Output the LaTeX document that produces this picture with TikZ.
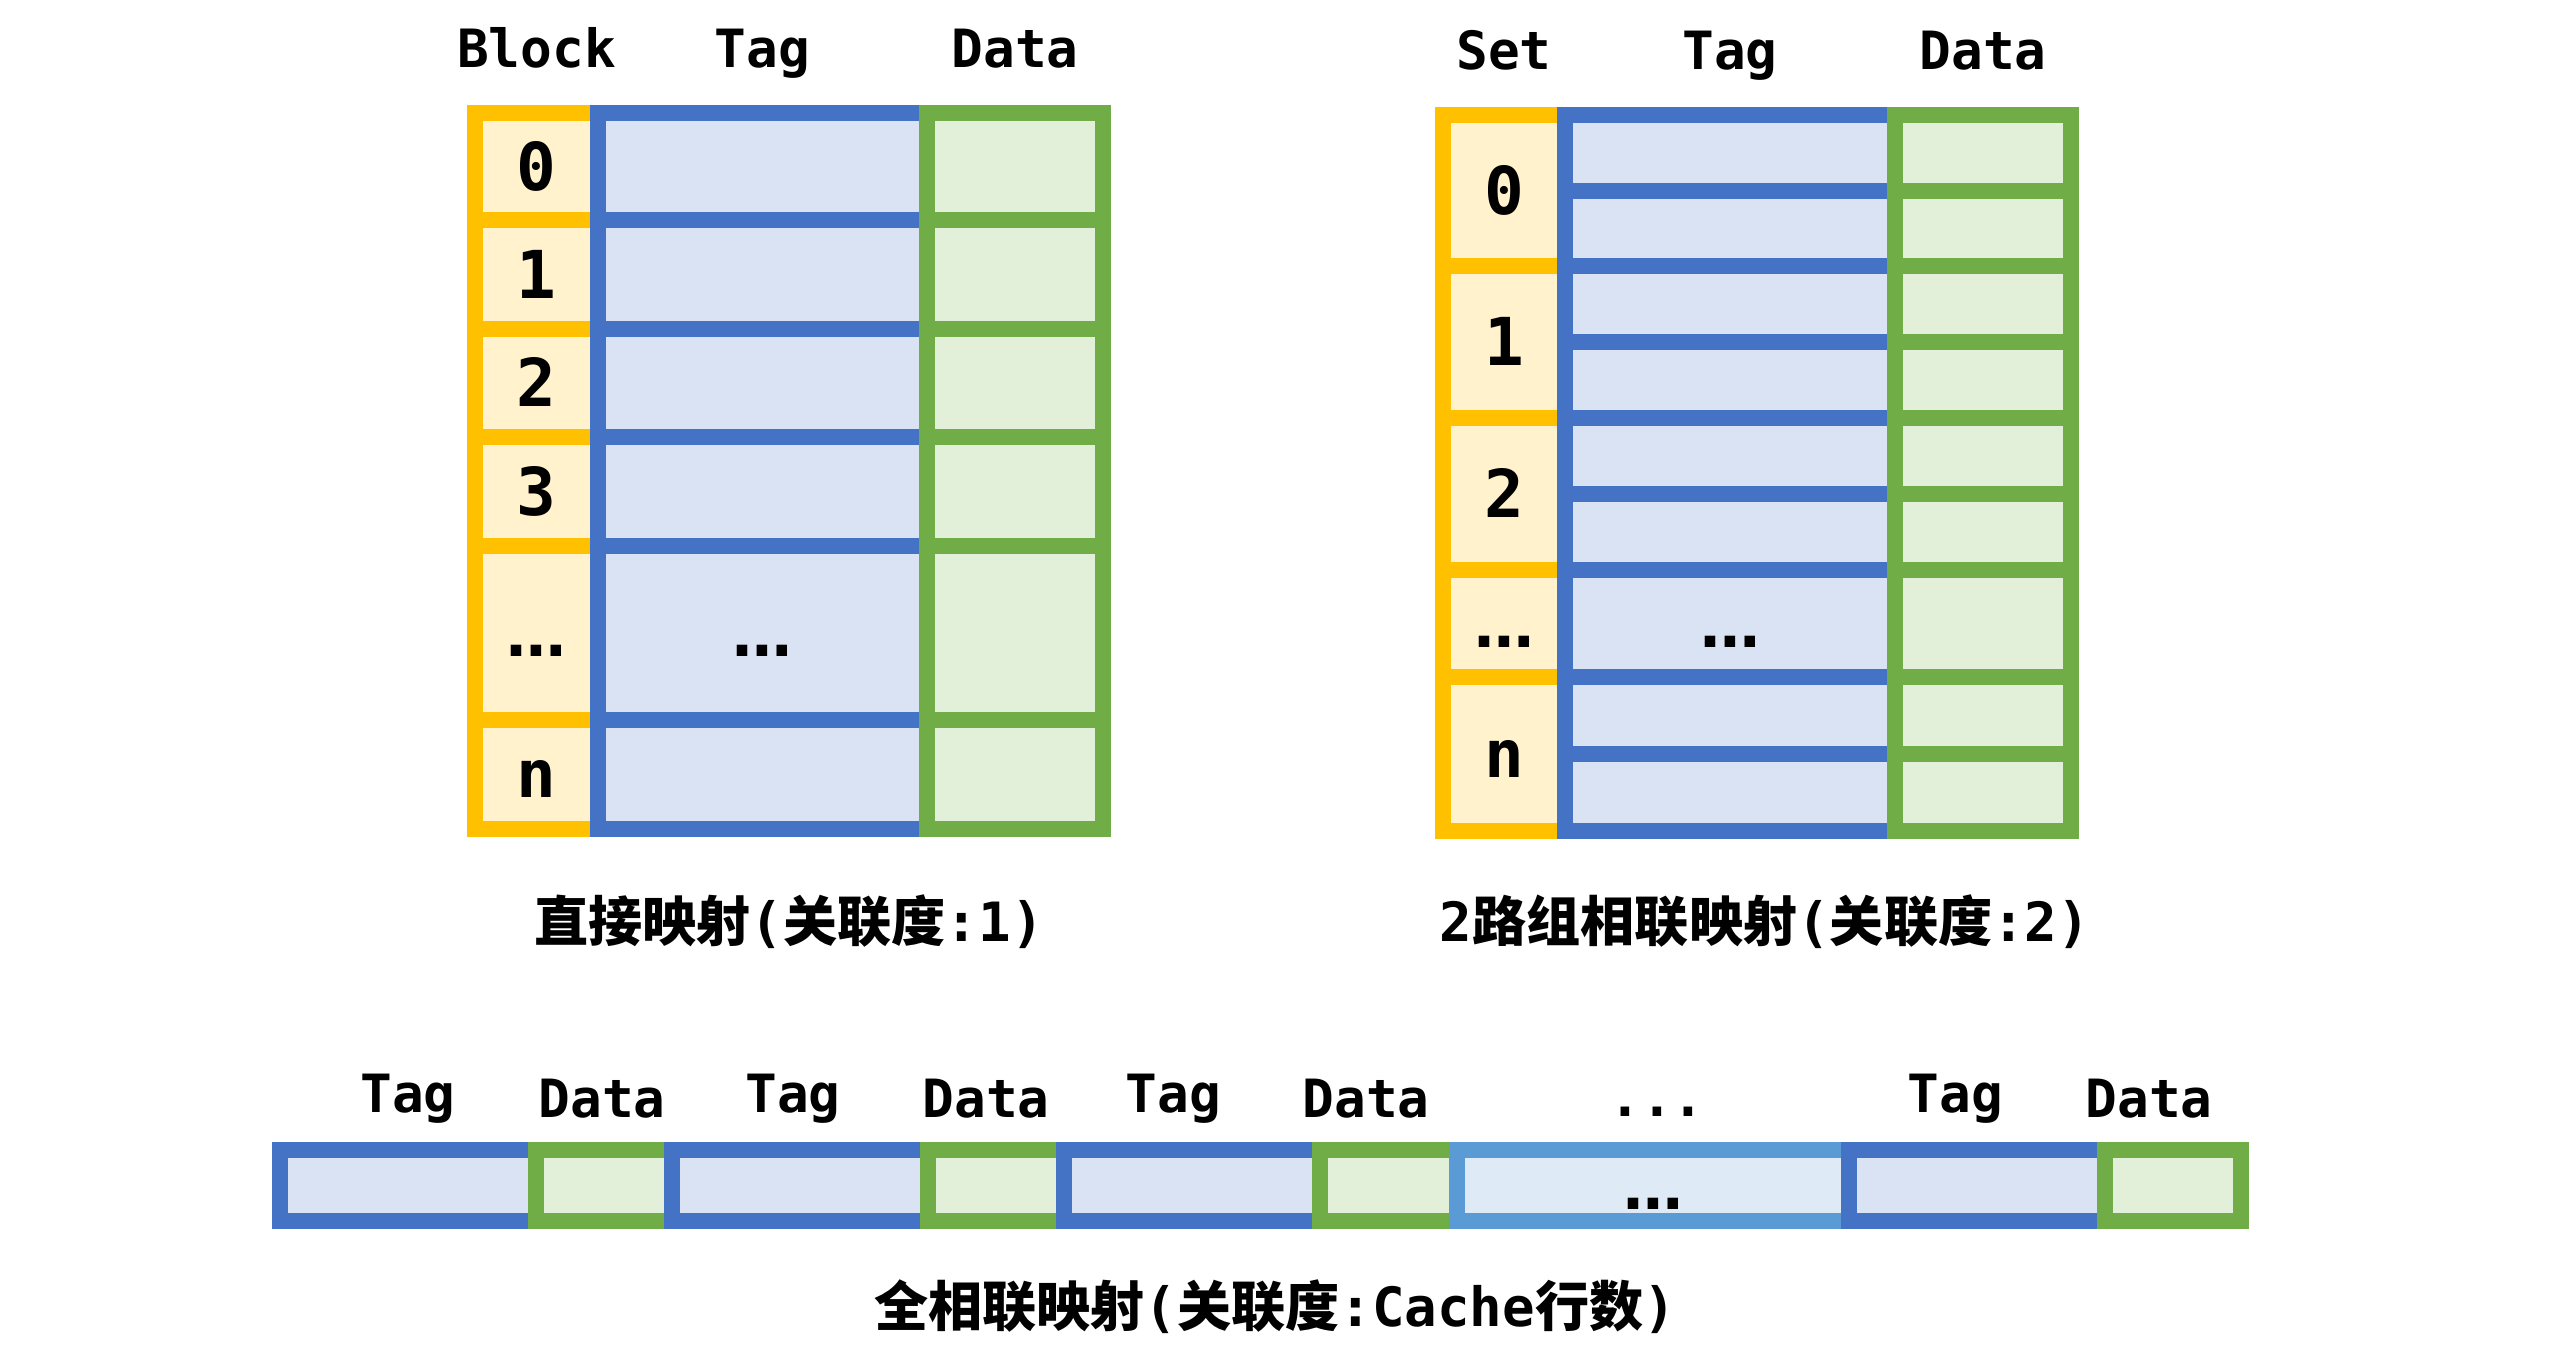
\documentclass[tikz,border=0pt]{standalone}
\usepackage{fontspec}
\setmainfont{DejaVu Sans Mono}
\newfontfamily\cjk{Noto Sans CJK SC}
\newfontfamily\dotsfont{DejaVu Sans}
\usetikzlibrary{positioning}

\definecolor{setline}{HTML}{FFC000}
\definecolor{setfill}{HTML}{FFF2CC}
\definecolor{tagline}{HTML}{4472C4}
\definecolor{tagfill}{HTML}{DAE3F3}
\definecolor{dataline}{HTML}{70AD47}
\definecolor{datafill}{HTML}{E2F0D9}
\definecolor{moreline}{HTML}{5B9BD5}
\definecolor{morefill}{HTML}{DEEBF7}

\tikzset{
  setcell/.style={draw=setline, fill=setfill, line width=1.6mm},
  tagcell/.style={draw=tagline, fill=tagfill, line width=1.6mm},
  datacell/.style={draw=dataline, fill=datafill, line width=1.6mm},
  morecell/.style={draw=moreline, fill=morefill, line width=1.6mm},
  head/.style={anchor=base, inner sep=0pt, font=\bfseries\fontsize{15}{18}\selectfont},
  idx/.style={inner sep=0pt, text height=4.8mm, text depth=0pt, font=\bfseries\fontsize{18.8}{22}\selectfont},
  more/.style={inner sep=0pt, text height=4.8mm, text depth=0pt, font=\dotsfont\bfseries\fontsize{17}{20}\selectfont},
  captext/.style={anchor=base, inner sep=0pt, font=\bfseries\fontsize{15.4}{18}\selectfont},
}

% row limits (top/bottom) of the tables
\def\dmrows{12.47/11.40,11.40/10.31,10.31/9.23,9.23/8.14,8.14/6.40,6.40/5.31}
\def\sarows{12.45/10.94,10.94/9.42,9.42/7.90,7.90/6.83,6.83/5.29}
\def\walrows{12.45/11.69,11.69/10.94,10.94/10.18,10.18/9.42,9.42/8.66,8.66/7.90,7.90/6.83,6.83/6.06,6.06/5.29}

\begin{document}
\begin{tikzpicture}
  \useasboundingbox (0,0) rectangle (25.6,13.6);

  % Direct mapping
  \foreach \t/\b in \dmrows \draw[setcell] (4.75,\t) rectangle (5.98,\b);
  \foreach \t/\b in \dmrows \draw[tagcell] (5.98,\t) rectangle (9.27,\b);
  \foreach \t/\b in \dmrows \draw[datacell] (9.27,\t) rectangle (11.03,\b);

  \node[head] (hblock) at (5.365,12.925) {Block};
  \node[head] (htaga) at (7.625,12.925) {Tag};
  \node[head] (hdataa) at (10.15,12.925) {Data};

  \node[idx] (b0) at (5.365,11.935) {0};
  \node[idx] (b1) at (5.365,10.855) {1};
  \node[idx] (b2) at (5.365,9.77) {2};
  \node[idx] (b3) at (5.365,8.685) {3};
  \node[more] (bdots) at (5.365,7.27) {…};
  \node[idx] (bn) at (5.365,5.86) {n};
  \node[more] (tdotsa) at (7.625,7.27) {…};

  \node[captext] (capdirect) at (7.89,4.18) {{\cjk 直接映射}({\cjk 关联度}:1)};

  % 2-way set associative
  \foreach \t/\b in \sarows \draw[setcell] (14.43,\t) rectangle (15.65,\b);
  \foreach \t/\b in \walrows \draw[tagcell] (15.65,\t) rectangle (18.95,\b);
  \foreach \t/\b in \walrows \draw[datacell] (18.95,\t) rectangle (20.71,\b);

  \node[head] (hset) at (15.04,12.90) {Set};
  \node[head] (htagb) at (17.30,12.90) {Tag};
  \node[head] (hdatab) at (19.83,12.90) {Data};

  \node[idx] (s0) at (15.04,11.695) {0};
  \node[idx] (s1) at (15.04,10.18) {1};
  \node[idx] (s2) at (15.04,8.66) {2};
  \node[more] (sdots) at (15.04,7.365) {…};
  \node[idx] (sn) at (15.04,6.06) {n};
  \node[more] (tdotsb) at (17.30,7.365) {…};

  \node[captext] (capset) at (17.65,4.18) {2{\cjk 路组相联映射}({\cjk 关联度}:2)};

  % Fully associative, drawn left to right
  \foreach \c/\l/\r in {tagcell/2.80/5.36, datacell/5.36/6.72, tagcell/6.72/9.28,
      datacell/9.28/10.64, tagcell/10.64/13.20, datacell/13.20/14.57,
      morecell/14.57/18.49, tagcell/18.49/21.05, datacell/21.05/22.41}
    \draw[\c] (\l,2.10) rectangle (\r,1.39);

  \foreach \x [count=\i] in {4.08,7.93,11.735,19.555}
    \node[head] (ftag\i) at (\x,2.47) {Tag};
  \foreach \x [count=\i] in {6.02,9.86,13.66,21.49}
    \node[head] (fdata\i) at (\x,2.42) {Data};
  \node[head] (fmore) at (16.57,2.43) {...};
  \node[more] (mdots) at (16.53,1.745) {…};

  \node[captext] (capfull) at (12.75,0.33) {{\cjk 全相联映射}({\cjk 关联度}:Cache{\cjk 行数})};
\end{tikzpicture}
\end{document}
